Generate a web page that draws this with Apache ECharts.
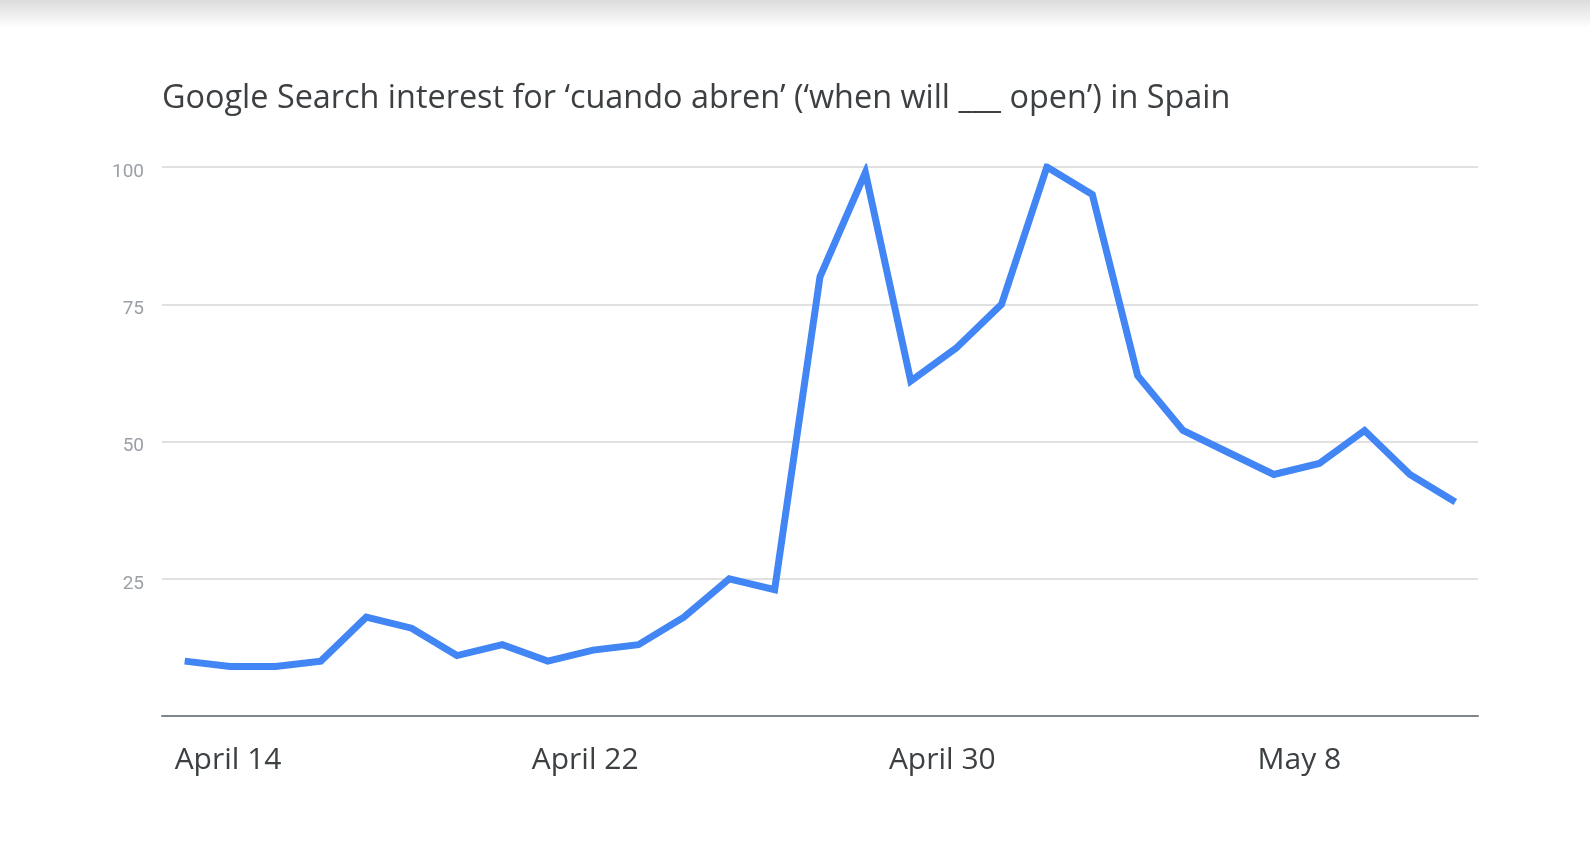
<!DOCTYPE html>
<html>
<head>
<meta charset="utf-8">
<script src="https://cdn.jsdelivr.net/npm/echarts@6/dist/echarts.min.js"></script>
<style>
    html, body { margin: 0; padding: 0; background: #fff; }
    #shade {
        position: absolute; left: 0; top: 0; width: 1590px; height: 28px;
        background: linear-gradient(to bottom, #dcdcdc, #ffffff);
        z-index: 2;
    }
    #main { width: 1590px; height: 860px; }
</style>
</head>
<body>
<div id="shade"></div>
<div id="main"></div>
<script>
// daily values, April 13 - May 11
var days = [
    'April 13', 'April 14', 'April 15', 'April 16', 'April 17', 'April 18', 'April 19',
    'April 20', 'April 21', 'April 22', 'April 23', 'April 24', 'April 25', 'April 26',
    'April 27', 'April 28', 'April 29', 'April 30', 'May 1', 'May 2', 'May 3',
    'May 4', 'May 5', 'May 6', 'May 7', 'May 8', 'May 9', 'May 10', 'May 11'
];
var interest = [
    10, 9, 9, 10, 18, 16, 11, 13, 10, 12, 13, 18, 25, 23,
    80, 99, 61, 67, 75, 100, 95, 62, 52, 48, 44, 46, 52, 44, 39
];
var shownDays = ['April 14', 'April 22', 'April 30', 'May 8'];
var yTicks = [25, 50, 75, 100];

var myChart = echarts.init(document.getElementById('main'));

// the date labels in the original sit on a slightly tighter scale than the points
var labelIdx = shownDays.map(function(d) { return days.indexOf(d); });

var option = {
    animation: false,
    title: {
        text: 'Google Search interest for \u2018cuando abren\u2019 (\u2018when will ___ open\u2019) in Spain',
        left: 157,
        top: 78,
        textStyle: {
            fontFamily: 'Open Sans',
            fontSize: 32.4,
            fontWeight: 'normal',
            color: '#3c4043'
        }
    },
    grid: {
        left: 162,
        right: 112,
        top: 167,
        bottom: 144
    },
    xAxis: [{
        type: 'category',
        data: days,
        boundaryGap: true,
        axisLine: { lineStyle: { color: '#80868b', width: 2 } },
        axisTick: { show: false },
        axisLabel: { show: false }
    }, {
        type: 'value',
        position: 'bottom',
        min: -0.48,
        max: 29.0,
        axisLine: { show: false },
        axisTick: { show: false },
        splitLine: { show: false },
        axisLabel: {
            customValues: labelIdx,
            formatter: function(v) {
                return days[Math.round(v)];
            },
            fontFamily: 'Open Sans',
            fontSize: 30,
            color: '#3c4043',
            margin: 29
        }
    }],
    yAxis: {
        type: 'value',
        min: 0,
        max: 100,
        interval: 25,
        axisLine: { show: false },
        axisTick: { show: false },
        splitLine: { lineStyle: { color: '#e0e0e0', width: 2 } },
        axisLabel: {
            margin: 18,
            formatter: function(v) {
                return yTicks.indexOf(v) >= 0 ? '{t|' + v + '}' : '';
            },
            rich: {
                t: {
                    fontFamily: 'Roboto',
                    fontSize: 19,
                    color: '#9aa0a6',
                    padding: [10, 0, 0, 0]
                }
            }
        }
    },
    series: [{
        name: 'cuando abren',
        type: 'line',
        xAxisIndex: 0,
        data: interest,
        symbol: 'none',
        lineStyle: { color: '#4285f4', width: 7, join: 'miter' },
        itemStyle: { color: '#4285f4' }
    }]
};

myChart.setOption(option);
</script>
</body>
</html>
